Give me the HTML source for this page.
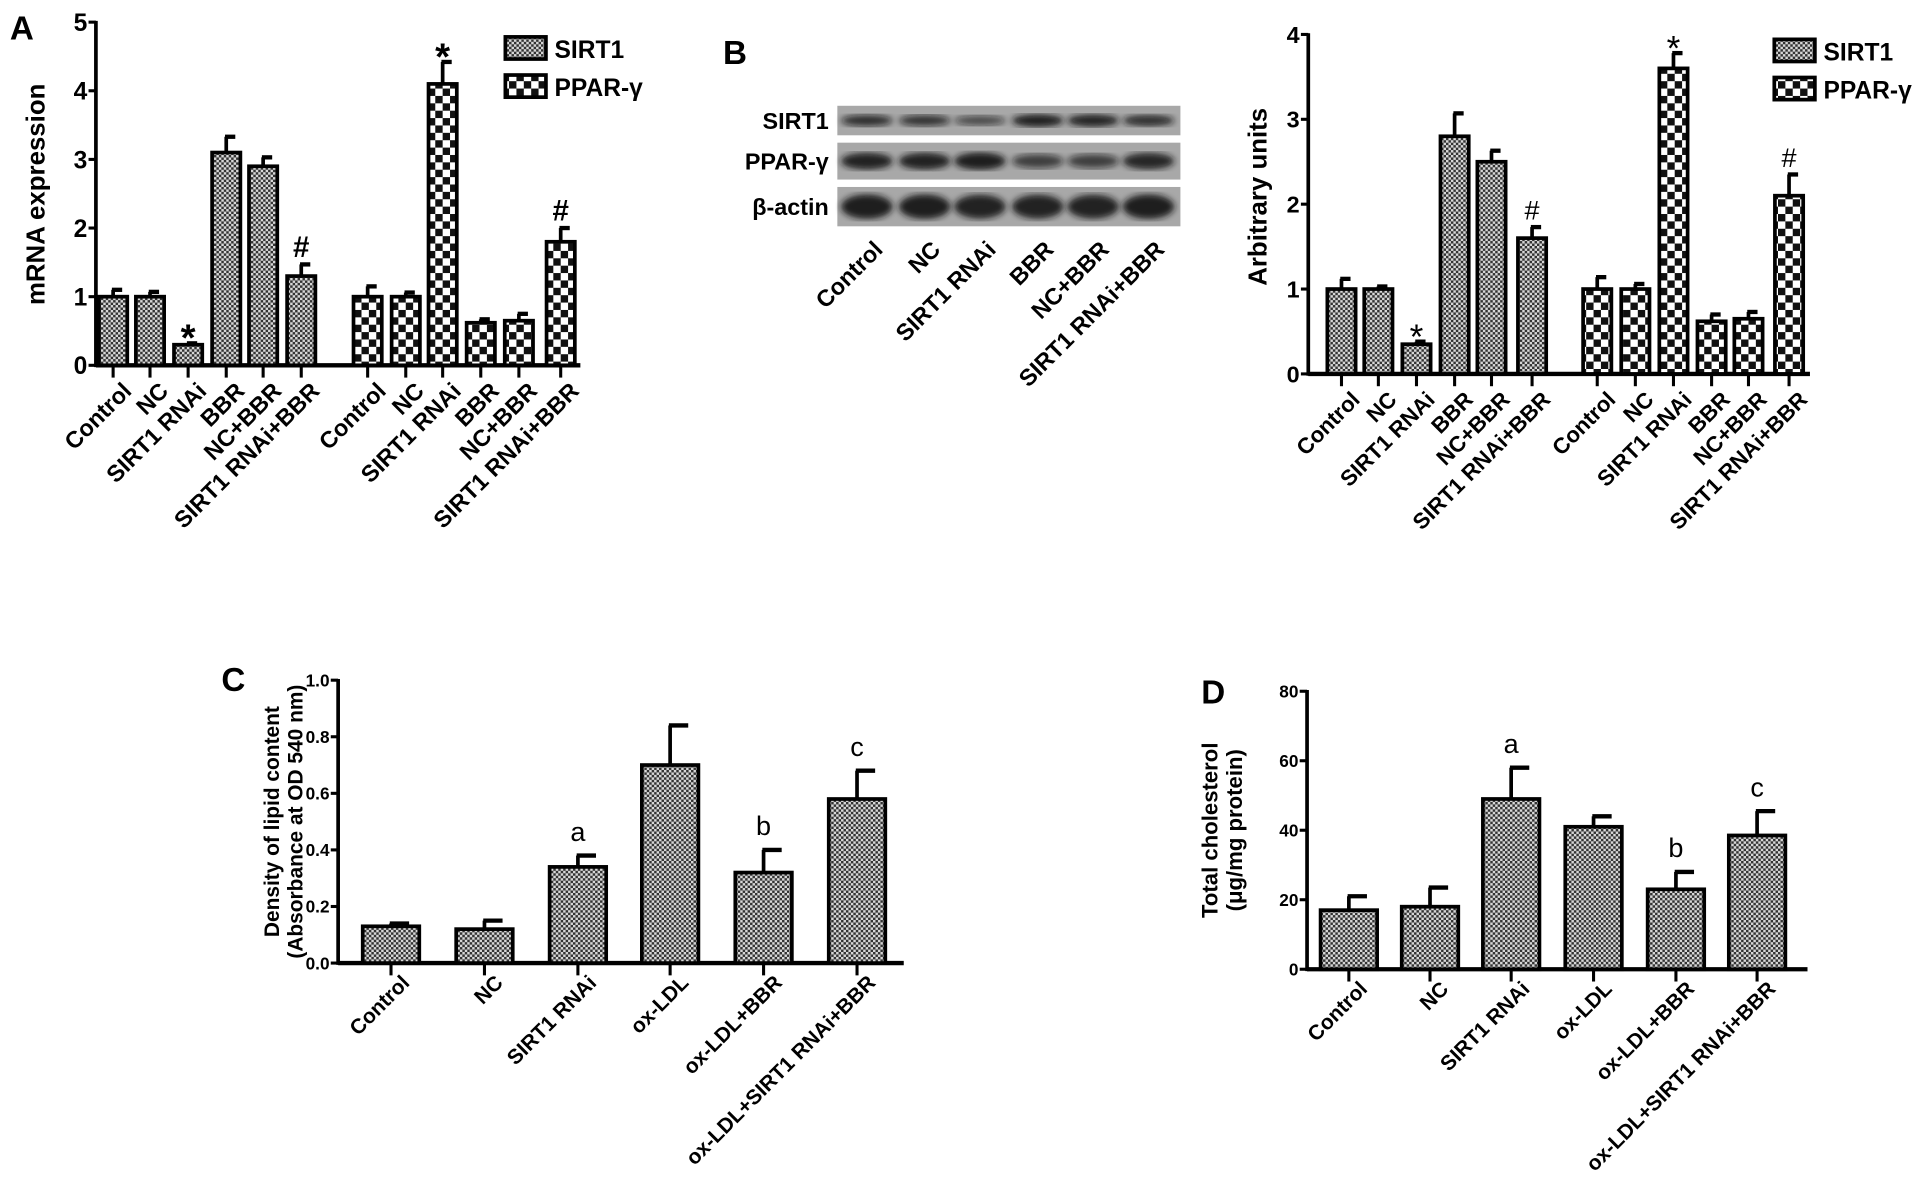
<!DOCTYPE html>
<html><head><meta charset="utf-8"><style>
html,body{margin:0;padding:0;background:#fff;}
svg{display:block;font-family:"Liberation Sans",sans-serif;}
</style></head><body>
<svg id="fig" width="1928" height="1198" viewBox="0 0 1568 974" preserveAspectRatio="none" xmlns="http://www.w3.org/2000/svg">
<defs>
<pattern id="pS" width="4" height="4" patternUnits="userSpaceOnUse"><rect width="4" height="4" fill="#d8d8d8"/><rect width="2" height="2" fill="#333"/><rect x="2" y="2" width="2" height="2" fill="#333"/></pattern>
<pattern id="pP" width="12" height="12" patternUnits="userSpaceOnUse"><rect width="12" height="12" fill="#fff"/><rect width="6" height="6" fill="#111"/><rect x="6" y="6" width="6" height="6" fill="#111"/></pattern>
<filter id="blur"><feGaussianBlur stdDeviation="2.5"/></filter>
</defs>
<g id="root"></g>
</svg>
<script>
const NS="http://www.w3.org/2000/svg";
// ---- data ----
const groupsAB=["Control","NC","SIRT1 RNAi","BBR","NC+BBR","SIRT1 RNAi+BBR"];
const aSirt=[1.0,1.0,0.3,3.1,2.9,1.3];
const aSirtErr=[0.1,0.07,0.02,0.23,0.13,0.17];
const aPpar=[1.0,1.0,4.1,0.62,0.65,1.8];
const aPparErr=[0.15,0.06,0.32,0.05,0.1,0.2];
const aSirtMarks=["","","*","","","#"];
const aPparMarks=["","","*","","","#"];
const aTicks=[0,1,2,3,4,5];
const bSirt=[1.0,1.0,0.35,2.8,2.5,1.6];
const bSirtErr=[0.12,0.03,0.03,0.27,0.13,0.13];
const bPpar=[1.0,1.0,3.6,0.62,0.65,2.1];
const bPparErr=[0.14,0.06,0.18,0.08,0.08,0.25];
const bTicks=[0,1,2,3,4];
const groupsCD=["Control","NC","SIRT1 RNAi","ox-LDL","ox-LDL+BBR","ox-LDL+SIRT1 RNAi+BBR"];
const cVals=[0.13,0.12,0.34,0.70,0.32,0.58];
const cErr=[0.01,0.03,0.04,0.14,0.08,0.10];
const cMarks=["","","a","","b","c"];
const cTicks=[0,0.2,0.4,0.6,0.8,1.0];
const dVals=[17,18,49,41,23,38.5];
const dErr=[4,5.5,9,3,5,7];
const dMarks=["","","a","","b","c"];
const dTicks=[0,20,40,60,80];
const blotSirt=[0.75,0.7,0.45,1.0,0.95,0.8];
const blotPpar=[0.95,0.95,1.0,0.55,0.55,0.9];
const blotActin=[1,1,0.95,0.95,0.95,1];

const root=document.getElementById('root');
function el(tag,attrs,parent,text){const e=document.createElementNS(NS,tag);for(const k in attrs)e.setAttribute(k,attrs[k]);if(text!==undefined)e.textContent=text;(parent||root).appendChild(e);return e;}

function panel(cfg){
  const g=el('g',{});
  
  
  const y=v=>cfg.y0-(v-cfg.vmin)/(cfg.vmax-cfg.vmin)*(cfg.y0-cfg.ytop);
  const ax=el('line',{x1:cfg.x0,y1:cfg.ytop-1,x2:cfg.x0,y2:cfg.y0+1.5,stroke:'#000','stroke-width':3},g);
  
  const xa=el('line',{x1:cfg.x0,y1:cfg.y0,x2:cfg.xend,y2:cfg.y0,stroke:'#000','stroke-width':3.5},g);
  
  cfg.ticks.forEach(t=>{
    el('line',{x1:cfg.x0-6,y1:y(t),x2:cfg.x0,y2:y(t),stroke:'#000','stroke-width':2.5},g);
    const tl=el('text',{x:cfg.x0-7,y:y(t)+cfg.tfs*0.36,'text-anchor':'end','font-size':cfg.tfs,'font-weight':'bold'},g,cfg.tickFmt(t));
    
  });
  cfg.series.forEach(s=>{
    s.vals.forEach((v,i)=>{
      const cx=s.xs[i],w=cfg.bw;
      const top=y(v+s.err[i]);
      el('line',{x1:cx,y1:y(v),x2:cx,y2:top,stroke:'#000','stroke-width':3},g);
      el('line',{x1:cx-1,y1:top,x2:cx+w*0.32,y2:top,stroke:'#000','stroke-width':3.5},g);
      const b=el('rect',{x:cx-w/2,y:y(v),width:w,height:cfg.y0-y(v),fill:s.fill,stroke:'#000','stroke-width':3},g);
      
      el('line',{x1:cx,y1:cfg.y0,x2:cx,y2:cfg.y0+10,stroke:'#000','stroke-width':2.5},g);
      if(s.marks[i]){
        const star=s.marks[i]==='*';
        const m=el('text',{x:cx,y:top-cfg.markGap+(star&&cfg.starBig?12:0),'text-anchor':'middle','font-size':star&&cfg.starBig?cfg.mfs*1.3:cfg.mfs,'font-weight':cfg.markBold?'bold':'normal'},g,s.marks[i]);
        
      }
      const lx=cx+cfg.lblDx,ly=cfg.y0+cfg.lblDy;
      const t=el('text',{x:lx,y:ly,'text-anchor':'end','font-size':cfg.lfs,'font-weight':'bold',transform:`rotate(${cfg.rot} ${lx} ${ly})`},g,s.labels[i]);
      
    });
  });
  cfg.ylabel.forEach((line,k)=>{
    const lx=cfg.ylx+k*cfg.ylsp;
    const t=el('text',{x:lx,y:cfg.yly,'text-anchor':'middle','font-size':cfg.yfs,'font-weight':'bold',transform:`rotate(-90 ${lx} ${cfg.yly})`},g,line);
    
  });
  return g;
}
const xsA1=[92,122,153,184,214,245], xsA2=[299,330,360,391,422,456];
panel({name:'panel-a-chart',x0:78,xend:472,ytop:18,y0:297,vmin:0,vmax:5,ticks:aTicks,tickFmt:t=>t,tfs:20,bw:23,mfs:24,markGap:6,starBig:true,markBold:true,lfs:19,lblDx:16,lblDy:22,rot:-45,
 series:[{key:'sirt1',vals:aSirt,err:aSirtErr,xs:xsA1,fill:'url(#pS)',marks:aSirtMarks,labels:groupsAB},{key:'ppar',vals:aPpar,err:aPparErr,xs:xsA2,fill:'url(#pP)',marks:aPparMarks,labels:groupsAB}],
 ylabel:['mRNA expression'],ylx:36,yly:158,ylsp:0,yfs:21});
const xsB1=[1091,1121,1152,1183,1213,1246], xsB2=[1299,1330,1361,1392,1422,1455];
panel({name:'panel-b-chart',x0:1064,xend:1472,ytop:28,y0:304,vmin:0,vmax:4,ticks:bTicks,tickFmt:t=>t,tfs:19,bw:23,mfs:22,markGap:6,starBig:true,markBold:false,lfs:18,lblDx:16,lblDy:22,rot:-45,
 series:[{key:'sirt1',vals:bSirt,err:bSirtErr,xs:xsB1,fill:'url(#pS)',marks:aSirtMarks,labels:groupsAB},{key:'ppar',vals:bPpar,err:bPparErr,xs:xsB2,fill:'url(#pP)',marks:aPparMarks,labels:groupsAB}],
 ylabel:['Arbitrary units'],ylx:1030,yly:160,ylsp:0,yfs:21});
const xsC=[318,394,470,545,621,697];
panel({name:'panel-c-chart',x0:275,xend:735,ytop:553,y0:783,vmin:0,vmax:1,ticks:cTicks,tickFmt:t=>t.toFixed(1),tfs:14,bw:46,mfs:22,markGap:12,starBig:false,markBold:false,lfs:17,lblDx:16,lblDy:17,rot:-45,
 series:[{key:'lipid',vals:cVals,err:cErr,xs:xsC,fill:'url(#pS)',marks:cMarks,labels:groupsCD}],
 ylabel:['Density of lipid content','(Absorbance at OD 540 nm)'],ylx:227,yly:668,ylsp:19,yfs:17});
const xsD=[1097,1163,1229,1296,1363,1429];
panel({name:'panel-d-chart',x0:1063,xend:1470,ytop:562,y0:788,vmin:0,vmax:80,ticks:dTicks,tickFmt:t=>t,tfs:14,bw:46,mfs:22,markGap:12,starBig:false,markBold:false,lfs:17,lblDx:16,lblDy:17,rot:-45,
 series:[{key:'cholesterol',vals:dVals,err:dErr,xs:xsD,fill:'url(#pS)',marks:dMarks,labels:groupsCD}],
 ylabel:['Total cholesterol','(μg/mg protein)'],ylx:990,yly:675,ylsp:20,yfs:18});

// legends
function legend(x,y,name){
  const g=el('g',{});
  [['url(#pS)','SIRT1'],['url(#pP)','PPAR-γ']].forEach((it,k)=>{
    el('rect',{x:x,y:y+k*31,width:33,height:18,fill:it[0],stroke:'#000','stroke-width':3},g);
    el('text',{x:x+40,y:y+k*31+17,'font-size':20,'font-weight':'bold'},g,it[1]);
  });
}
legend(411,30,'panel-a-legend');
legend(1443,32,'panel-b-legend');

// panel letters
[['A',8,32],['B',588,52],['C',180,562],['D',977,572]].forEach(p=>{
  const t=el('text',{x:p[1],y:p[2],'font-size':27,'font-weight':'bold'},root,p[0]);
  
});

// western blot
const blot=el('g',{});
const rows=[['SIRT1',86,24,blotSirt,10],['PPAR-γ',116,30,blotPpar,14],['β-actin',152,32,blotActin,20]];
const lanes=[705,752,797,844,889,934];
rows.forEach(r=>{
  el('rect',{x:681,y:r[1],width:279,height:r[2],fill:'#a8a8a8'},blot);
  r[3].forEach((v,i)=>{el('ellipse',{cx:lanes[i],cy:r[1]+r[2]/2,rx:21,ry:r[4]/2*(0.6+0.4*v),fill:`rgba(20,20,20,${0.4+0.55*v})`,filter:'url(#blur)'},blot);});
  const t=el('text',{x:674,y:r[1]+r[2]/2+7,'text-anchor':'end','font-size':19,'font-weight':'bold'},blot,r[0]);
  
});
groupsAB.forEach((g,i)=>{
  const lx=lanes[i]+14,ly=204;
  const t=el('text',{x:lx,y:ly,'text-anchor':'end','font-size':19,'font-weight':'bold',transform:`rotate(-45 ${lx} ${ly})`},blot,g);
  
});
</script>
</body></html>
